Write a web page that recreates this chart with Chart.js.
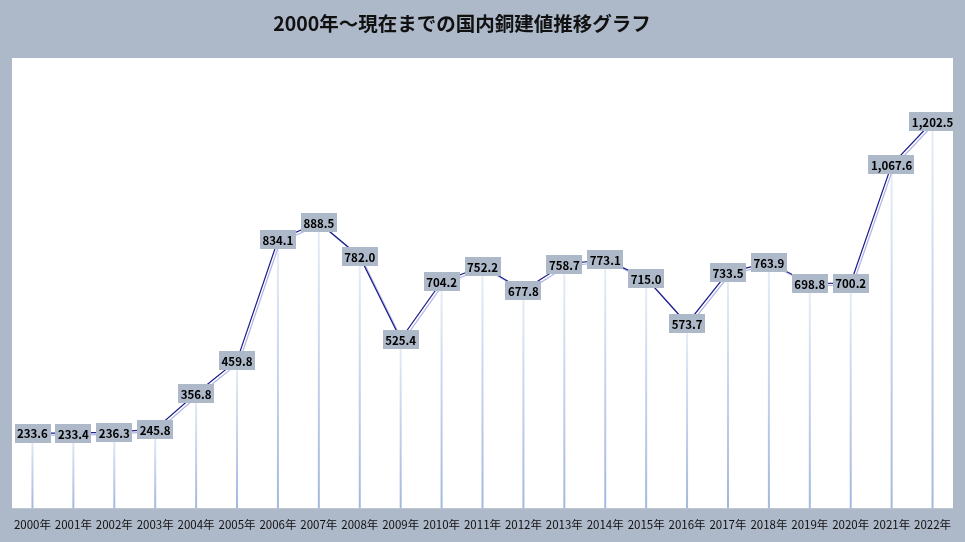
<!DOCTYPE html>
<html>
<head>
<meta charset="utf-8">
<script src="https://cdn.jsdelivr.net/npm/chart.js@4.4.0/dist/chart.umd.min.js"></script>
<style>
  html, body { margin: 0; padding: 0; background: #adb8c9; }
  #wrap { width: 965px; height: 542px; }
</style>
</head>
<body>
<div id="wrap"><canvas id="copperChart"></canvas></div>
<script>
const years = ['2000年', '2001年', '2002年', '2003年', '2004年', '2005年', '2006年', '2007年',
    '2008年', '2009年', '2010年', '2011年', '2012年', '2013年', '2014年', '2015年',
    '2016年', '2017年', '2018年', '2019年', '2020年', '2021年', '2022年'];
const prices = [233.6, 233.4, 236.3, 245.8, 356.8, 459.8, 834.1, 888.5, 782.0, 525.4, 704.2, 752.2,
    677.8, 758.7, 773.1, 715.0, 573.7, 733.5, 763.9, 698.8, 700.2, 1067.6, 1202.5];
const chartTitle = '2000年～現在までの国内銅建値推移グラフ';

const BG = '#adb8c9';
const JP_FONT = '"Noto Sans CJK JP", "Noto Sans", sans-serif';

// 白いプロット領域とタイトル
const frame = {
    id: 'frame',
    beforeDraw(chart) {
        const { ctx, chartArea: a } = chart;
        ctx.save();
        ctx.fillStyle = BG;
        ctx.fillRect(0, 0, chart.width, chart.height);
        ctx.fillStyle = '#ffffff';
        ctx.fillRect(a.left, a.top, a.right - a.left, a.bottom - a.top);
        ctx.fillStyle = '#111';
        ctx.font = 'bold 19.5px ' + JP_FONT;
        ctx.textAlign = 'center';
        ctx.textBaseline = 'middle';
        ctx.fillText(chartTitle, 462, 24);
        ctx.restore();
    },
    // 縦の降下線
    beforeDatasetsDraw(chart) {
        const { ctx, chartArea: a } = chart;
        const pts = chart.getDatasetMeta(0).data;
        ctx.save();
        pts.forEach(p => {
            const g = ctx.createLinearGradient(0, a.bottom, 0, p.y);
            g.addColorStop(0, '#a3b7df');
            g.addColorStop(1, '#e8eef8');
            ctx.strokeStyle = g;
            ctx.lineWidth = 2;
            ctx.beginPath();
            ctx.moveTo(p.x, p.y);
            ctx.lineTo(p.x, a.bottom);
            ctx.stroke();
        });
        ctx.restore();
    },
    beforeDatasetDraw(chart) {
        const ctx = chart.ctx;
        ctx.save();
        ctx.shadowColor = 'rgba(140,150,215,0.7)';
        ctx.shadowOffsetX = 2;
        ctx.shadowOffsetY = 2;
        ctx.shadowBlur = 0;
    },
    afterDatasetDraw(chart) {
        chart.ctx.restore();
    },
    // データラベル
    afterDatasetsDraw(chart) {
        const { ctx } = chart;
        const pts = chart.getDatasetMeta(0).data;
        ctx.save();
        ctx.font = 'bold 11.5px ' + JP_FONT;
        ctx.textAlign = 'center';
        ctx.textBaseline = 'middle';
        pts.forEach((p, i) => {
            const txt = prices[i].toLocaleString('en-US', { minimumFractionDigits: 1, maximumFractionDigits: 1 });
            const w = ctx.measureText(txt).width + 5;
            const h = 19;
            ctx.fillStyle = BG;
            ctx.fillRect(Math.round(p.x - w / 2), Math.round(p.y - h / 2), Math.round(w), h);
            ctx.fillStyle = '#000';
            ctx.fillText(txt, p.x, p.y + 1);
        });
        ctx.restore();
    }
};

new Chart(document.getElementById('copperChart'), {
    type: 'line',
    data: {
        labels: years,
        datasets: [{
            data: prices,
            borderColor: '#1e1e8c',
            borderWidth: 1.2,
            pointRadius: 0,
            tension: 0,
            fill: false
        }]
    },
    options: {
        responsive: true,
        maintainAspectRatio: false,
        animation: false,
        layout: { padding: { top: 58, left: 12, right: 12, bottom: 0 } },
        plugins: {
            legend: { display: false },
            tooltip: { enabled: false },
            title: { display: false }
        },
        scales: {
            x: {
                offset: true,
                border: { display: false },
                grid: { display: false, drawTicks: false },
                ticks: {
                    color: '#111',
                    padding: 10,
                    maxRotation: 0,
                    autoSkip: false,
                    font: { size: 11.5, family: JP_FONT }
                }
            },
            y: {
                display: false,
                min: 0,
                max: 1400
            }
        }
    },
    plugins: [frame]
});
</script>
</body>
</html>
